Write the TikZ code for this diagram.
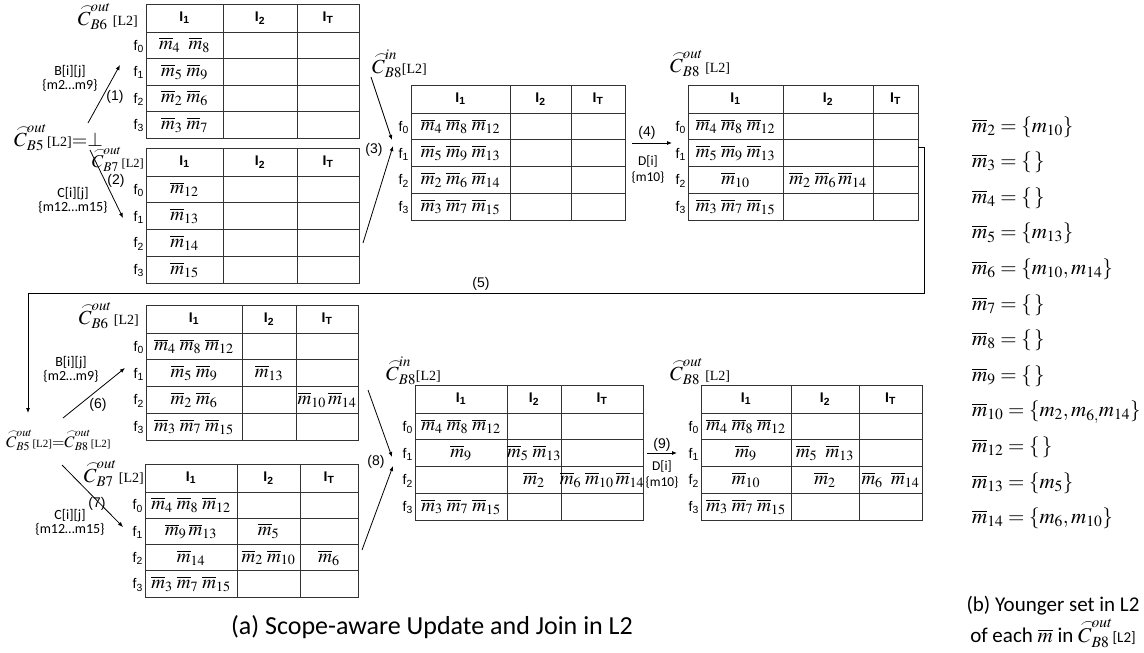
\documentclass[tikz,border=0pt]{standalone}
\usepackage{amsmath}
\usepackage{mathptmx}
\usepackage[no-math]{fontspec}
\setmainfont{Liberation Serif}
\newfontfamily\arialf{Liberation Sans}
\newfontfamily\calf{Carlito}
\usetikzlibrary{arrows.meta}

\newcommand\mb[1]{\overline{m}_{#1}}
\newcommand\hatc{\mathord{\rlap{$\mkern2mu\raisebox{0.7em}{$\scriptstyle\frown$}$}C}}
\newcommand\ltwo[1][14]{\text{\fontsize{#1}{#1}\selectfont[L2]}}

% one table: name, four column borders, top, bottom
\newcommand\tabgrid[7]{%
  \pgfmathsetmacro\rowh{(#7-#6-28)/4}%
  \pgfmathsetmacro\hdy{#6+28}%
  \draw[gridline] (#2,#6) rectangle (#5,#7);
  \draw[gridline] (#3,#6) -- (#3,#7) (#4,#6) -- (#4,#7);
  \foreach \r in {0,...,3}
    \draw[gridline] (#2,{\hdy+\r*\rowh}) -- (#5,{\hdy+\r*\rowh});
  \node[hdr] (#1-h1) at ({(#2+#3)/2},{#6+14}) {I\textsubscript{1}};
  \node[hdr] (#1-h2) at ({(#3+#4)/2},{#6+14}) {I\textsubscript{2}};
  \node[hdr] (#1-hT) at ({(#4+#5)/2},{#6+14}) {I\textsubscript{T}};
  \foreach \r in {0,...,3} {
    \node[flab] (#1-f\r) at ({#2-1},{\hdy+(\r+0.5)*\rowh+1}) {f\textsubscript{\r}};
    \coordinate (#1-1\r) at ({(#2+#3)/2},{\hdy+(\r+0.5)*\rowh});
    \coordinate (#1-2\r) at ({(#3+#4)/2},{\hdy+(\r+0.5)*\rowh});
    \coordinate (#1-T\r) at ({(#4+#5)/2},{\hdy+(\r+0.5)*\rowh});
  }%
}

\begin{document}
\begin{tikzpicture}[x=1pt,y=-1pt,
  gridline/.style={draw=black!80,line width=0.9pt},
  hdr/.style={font=\arialf\bfseries\fontsize{14}{14}\selectfont,inner sep=0pt},
  flab/.style={anchor=east,font=\arialf\fontsize{14}{14}\selectfont,inner sep=1pt},
  ent/.style={font=\fontsize{19}{19}\selectfont,inner sep=0pt},
  ttl/.style={font=\fontsize{20}{20}\selectfont,inner sep=0pt},
  stp/.style={font=\arialf\fontsize{14}{14}\selectfont,inner sep=0pt},
  note/.style={font=\calf\fontsize{14}{14}\selectfont,align=center,inner sep=0pt},
  arr/.style={-{Latex[length=5pt,width=4pt]},line width=0.8pt},
  yng/.style={anchor=base west,font=\fontsize{21}{21}\selectfont,inner sep=0pt},
  capt/.style={font=\calf\fontsize{26}{28}\selectfont,align=center,inner sep=0pt}]

\useasboundingbox (0,0) rectangle (1144,653);

% upper row: update of B6 and B7
\tabgrid{u6}{146}{223}{297}{359}{4}{138}
\node[ent] (u6-e10) at (u6-10) {$\mb{4}\;\;\mb{8}$};
\node[ent] (u6-e11) at (u6-11) {$\mb{5}\;\mb{9}$};
\node[ent] (u6-e12) at (u6-12) {$\mb{2}\;\mb{6}$};
\node[ent] (u6-e13) at (u6-13) {$\mb{3}\;\mb{7}$};
\node[ttl,anchor=base east] (u6-t) at (138,25) {$\hatc^{out}_{B6}\,\ltwo$};

\tabgrid{u7}{146}{223}{297}{359}{148}{283}
\node[ent] (u7-e10) at (u7-10) {$\mb{12}$};
\node[ent] (u7-e11) at (u7-11) {$\mb{13}$};
\node[ent] (u7-e12) at (u7-12) {$\mb{14}$};
\node[ent] (u7-e13) at (u7-13) {$\mb{15}$};
\node[ttl,anchor=base east,font=\fontsize{18}{18}\selectfont] (u7-t) at (144,167)
  {$\hatc^{out}_{B7}\ltwo[12.5]$};

\node[ttl,anchor=base west] (u5) at (14,146) {$\hatc^{out}_{B5}\ltwo{=}\bot$};

\coordinate (a1s) at (88,123);
\coordinate (a1e) at (120,65);
\draw[arr] (a1s) -- (a1e);
\node[stp] (n1) at (115,97) {(1)};
\node[note] (b1) at (70,78) {B[i][j]\\\{m2…m9\}};

\coordinate (a2s) at (90,150);
\coordinate (a2e) at (123,218);
\draw[arr] (a2s) -- (a2e);
\node[stp] (n2) at (116,181) {(2)};
\node[note] (c2) at (73,200) {C[i][j]\\\{m12…m15\}};

% upper row: join into B8
\tabgrid{u8i}{411}{510}{571}{625}{85}{220}
\node[ent] (u8i-e10) at (u8i-10) {$\mb{4}\;\mb{8}\;\mb{12}$};
\node[ent] (u8i-e11) at (u8i-11) {$\mb{5}\;\mb{9}\;\mb{13}$};
\node[ent] (u8i-e12) at (u8i-12) {$\mb{2}\;\mb{6}\;\mb{14}$};
\node[ent] (u8i-e13) at (u8i-13) {$\mb{3}\;\mb{7}\;\mb{15}$};
\node[ttl,anchor=base west] (u8i-t) at (372,73) {$\hatc^{in}_{B8}\ltwo$};

\coordinate (a3s) at (371,77);
\coordinate (a3e) at (392,140);
\coordinate (a3t) at (363,243);
\coordinate (a3f) at (393,146);
\draw[arr] (a3s) -- (a3e);
\draw[arr] (a3t) -- (a3f);
\node[stp] (n3) at (374,150) {(3)};

\tabgrid{u8o}{688}{783}{873}{918}{85}{220}
\node[ent] (u8o-e10) at (u8o-10) {$\mb{4}\;\mb{8}\;\mb{12}$};
\node[ent] (u8o-e11) at (u8o-11) {$\mb{5}\;\mb{9}\;\mb{13}$};
\node[ent] (u8o-e12) at (u8o-12) {$\mb{10}$};
\node[ent] (u8o-e22) at (u8o-22) {$\mb{2}\;\mb{6}\,\mb{14}$};
\node[ent] (u8o-e13) at (u8o-13) {$\mb{3}\;\mb{7}\;\mb{15}$};
\node[ttl,anchor=base west] (u8o-t) at (670,72) {$\hatc^{out}_{B8}\,\ltwo$};

\coordinate (a4s) at (632,143);
\coordinate (a4e) at (672,143);
\draw[arr] (a4s) -- (a4e);
\node[stp] (n4) at (647,133) {(4)};
\node[note,font=\calf\fontsize{13.5}{16}\selectfont] (d4) at (648,170) {D[i]\\\{m10\}};

% feedback of the B8 result to B5
\coordinate (c5a) at (918,147);
\coordinate (c5b) at (924,147);
\coordinate (c5c) at (924,293);
\coordinate (c5d) at (28,293);
\coordinate (c5e) at (28,413);
\draw[arr] (c5a) -- (c5b) -- (c5c) -- (c5d) -- (c5e);
\node[stp] (n5) at (481,284) {(5)};

% lower row: update of B6 and B7
\node[ttl,anchor=base west,font=\fontsize{16}{16}\selectfont] (l5) at (6,447)
  {$\hatc^{out}_{B5}\ltwo[11]{=}\hatc^{out}_{B8}\ltwo[11]$};

\tabgrid{l6}{146}{242}{296}{358}{305}{440}
\node[ent] (l6-e10) at (l6-10) {$\mb{4}\;\mb{8}\;\mb{12}$};
\node[ent] (l6-e11) at (l6-11) {$\mb{5}\;\mb{9}$};
\node[ent] (l6-e21) at (l6-21) {$\mb{13}$};
\node[ent] (l6-e12) at (l6-12) {$\mb{2}\;\mb{6}$};
\node[ent] (l6-eT2) at (l6-T2) {$\mb{10}\,\mb{14}$};
\node[ent] (l6-e13) at (l6-13) {$\mb{3}\;\mb{7}\;\mb{15}$};
\node[ttl,anchor=base east] (l6-t) at (139,324) {$\hatc^{out}_{B6}\,\ltwo$};

\coordinate (a6s) at (63,418);
\coordinate (a6e) at (125,368);
\draw[arr] (a6s) -- (a6e);
\node[stp] (n6) at (98,405) {(6)};
\node[note] (b6) at (71,369) {B[i][j]\\\{m2…m9\}};

\tabgrid{l7}{145}{237}{300}{358}{464}{597}
\node[ent] (l7-e10) at (l7-10) {$\mb{4}\;\mb{8}\;\mb{12}$};
\node[ent] (l7-e11) at (l7-11) {$\mb{9}\,\mb{13}$};
\node[ent] (l7-e21) at (l7-21) {$\mb{5}$};
\node[ent] (l7-e12) at (l7-12) {$\mb{14}$};
\node[ent] (l7-e22) at (l7-22) {$\mb{2}\;\mb{10}$};
\node[ent] (l7-eT2) at (l7-T2) {$\mb{6}$};
\node[ent] (l7-e13) at (l7-13) {$\mb{3}\;\mb{7}\;\mb{15}$};
\node[ttl,anchor=base east] (l7-t) at (144,482) {$\hatc^{out}_{B7}\,\ltwo$};

\coordinate (a7s) at (62,465);
\coordinate (a7e) at (123,527);
\draw[arr] (a7s) -- (a7e);
\node[stp] (n7) at (97,504) {(7)};
\node[note] (c7) at (70,522) {C[i][j]\\\{m12…m15\}};

% lower row: join into B8
\tabgrid{l8i}{415}{507}{561}{643}{385}{520}
\node[ent] (l8i-e10) at (l8i-10) {$\mb{4}\;\mb{8}\;\mb{12}$};
\node[ent] (l8i-e11) at (l8i-11) {$\mb{9}$};
\node[ent] (l8i-e21) at (l8i-21) {$\mb{5}\;\mb{13}$};
\node[ent] (l8i-e22) at (l8i-22) {$\mb{2}$};
\node[ent] (l8i-eT2) at (l8i-T2) {$\mb{6}\;\mb{10}\,\mb{14}$};
\node[ent] (l8i-e13) at (l8i-13) {$\mb{3}\;\mb{7}\;\mb{15}$};
\node[ttl,anchor=base west] (l8i-t) at (386,380) {$\hatc^{in}_{B8}\ltwo$};

\coordinate (a8s) at (368,390);
\coordinate (a8e) at (392,457);
\coordinate (a8t) at (362,550);
\coordinate (a8f) at (393,466);
\draw[arr] (a8s) -- (a8e);
\draw[arr] (a8t) -- (a8f);
\node[stp] (n8) at (376,462) {(8)};

\tabgrid{l8o}{701}{791}{859}{922}{385}{520}
\node[ent] (l8o-e10) at (l8o-10) {$\mb{4}\;\mb{8}\;\mb{12}$};
\node[ent] (l8o-e11) at (l8o-11) {$\mb{9}$};
\node[ent] (l8o-e21) at (l8o-21) {$\mb{5}\;\;\mb{13}$};
\node[ent] (l8o-e12) at (l8o-12) {$\mb{10}$};
\node[ent] (l8o-e22) at (l8o-22) {$\mb{2}$};
\node[ent] (l8o-eT2) at (l8o-T2) {$\mb{6}\;\;\mb{14}$};
\node[ent] (l8o-e13) at (l8o-13) {$\mb{3}\;\mb{7}\;\mb{15}$};
\node[ttl,anchor=base west] (l8o-t) at (670,380) {$\hatc^{out}_{B8}\,\ltwo$};

\coordinate (a9s) at (647,453);
\coordinate (a9e) at (677,453);
\draw[arr] (a9s) -- (a9e);
\node[stp] (n9) at (662,445) {(9)};
\node[note,font=\calf\fontsize{13.5}{16}\selectfont] (d9) at (662,475) {D[i]\\\{m10\}};

% younger sets
\foreach \i/\s [count=\n from 0] in {2/{\{m_{10}\}},3/{\{\,\}},4/{\{\,\}},5/{\{m_{13}\}},
    6/{\{m_{10},m_{14}\}},7/{\{\,\}},8/{\{\,\}},9/{\{\,\}},10/{\{m_{2},m_{6,}m_{14}\}},
    12/{\{\,\}},13/{\{m_{5}\}},14/{\{m_{6},m_{10}\}}}
  \node[yng] (y\i) at (972,{132+35.6*\n}) {$\mb{\i}=\s$};

% captions
\node[capt,font=\calf\fontsize{21}{21}\selectfont] (capb1) at (1053,606) {(b) Younger set in L2};
\node[capt,font=\calf\fontsize{21}{21}\selectfont,anchor=base] (capb2) at (1053,642)
  {of each $\overline{m}$ in $\hatc^{out}_{B8}\ltwo[15]$};
\node[capt] (capa) at (432,627) {(a) Scope-aware Update and Join in L2};
\end{tikzpicture}
\end{document}
